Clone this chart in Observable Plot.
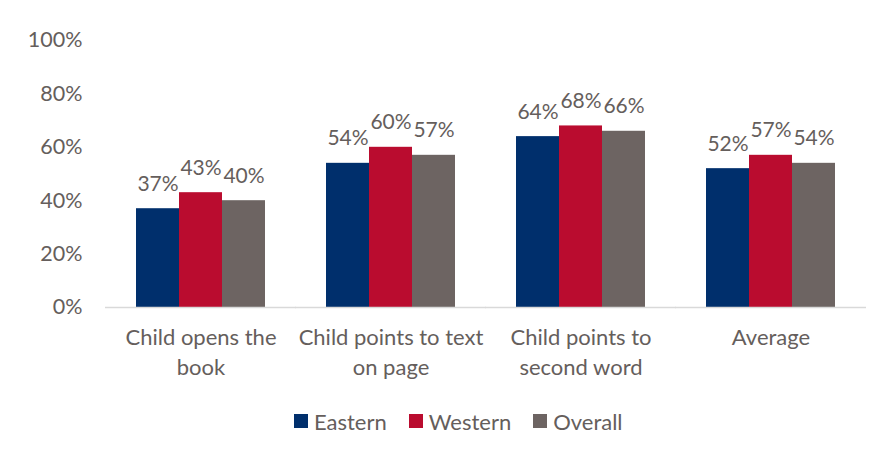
<!DOCTYPE html>
<html>
<head>
<meta charset="utf-8">
<script src="https://cdn.jsdelivr.net/npm/d3@7"></script>
<script src="https://cdn.jsdelivr.net/npm/@observablehq/plot@0.6"></script>
<style>
  html, body { margin: 0; padding: 0; background: #ffffff; }
  #wrap { width: 887px; height: 458px; position: relative; font-family: Lato, "Open Sans", sans-serif; }
  #legend { display: flex; align-items: center; gap: 22px; padding-left: 294px; margin-top: 20px; height: 22px; }
  .item { display: flex; align-items: center; gap: 6px; font-size: 22px; color: #655e5c; }
  .sw { width: 14px; height: 14px; display: inline-block; }
</style>
</head>
<body>
<div id="wrap"></div>
<script>
const categories = ["Child opens the book", "Child points to text on page", "Child points to second word", "Average"];
const categoryTickLabels = ["Child opens the\nbook", "Child points to text\non page", "Child points to\nsecond word", "Average"];
const seriesNames = ["Eastern", "Western", "Overall"];
const eastern = [0.37, 0.54, 0.64, 0.52];
const western = [0.43, 0.60, 0.68, 0.57];
const overall = [0.40, 0.57, 0.66, 0.54];
const yTicks = [0, 0.2, 0.4, 0.6, 0.8, 1.0];

const seriesColors = ["#002f6c", "#ba0c2f", "#6d6462"];
const textColor = "#655e5c";

const seriesValues = [eastern, western, overall];
const data = [];
categories.forEach((c, i) => {
  seriesNames.forEach((s, j) => {
    data.push({category: c, series: s, value: seriesValues[j][i]});
  });
});

const chart = Plot.plot({
  width: 887,
  height: 390,
  marginLeft: 104,
  marginRight: 20.5,
  marginTop: 40,
  marginBottom: 83,
  style: {fontFamily: "Lato, 'Open Sans', sans-serif", fontSize: "21px", color: textColor, background: "white", overflow: "visible"},
  fx: {domain: categories, paddingInner: 0.313, paddingOuter: 0.1565, label: null},
  x: {domain: seriesNames, padding: 0, axis: null},
  y: {domain: [0, 1], axis: null},
  color: {domain: seriesNames, range: seriesColors},
  marks: [
    Plot.barY(data, {fx: "category", x: "series", y: "value", fill: "series"}),
    Plot.ruleY([0], {stroke: "#d9d9d9", strokeWidth: 1.5, insetLeft: -30, insetRight: -30}),
    Plot.text(data, {fx: "category", x: "series", y: "value", text: d => Math.round(d.value * 100) + "%", dy: -18, lineAnchor: "bottom", fill: textColor, fontSize: 21}),
    Plot.axisY({ticks: yTicks, tickFormat: d => Math.round(d * 100) + "%", tickSize: 0, tickPadding: 53, label: null, fontSize: 21.5, fill: textColor}),
    Plot.axisFx({anchor: "bottom", tickFormat: d => categoryTickLabels[categories.indexOf(d)], tickSize: 0, tickPadding: 16, lineHeight: 1.36, fontSize: 22, fill: textColor, label: null})
  ]
});

const wrap = document.getElementById("wrap");
wrap.appendChild(chart);

const legend = document.createElement("div");
legend.id = "legend";
seriesNames.forEach((s, i) => {
  const item = document.createElement("div");
  item.className = "item";
  const sw = document.createElement("span");
  sw.className = "sw";
  sw.style.background = seriesColors[i];
  const label = document.createElement("span");
  label.textContent = s;
  item.appendChild(sw);
  item.appendChild(label);
  legend.appendChild(item);
});
wrap.appendChild(legend);
</script>
</body>
</html>
